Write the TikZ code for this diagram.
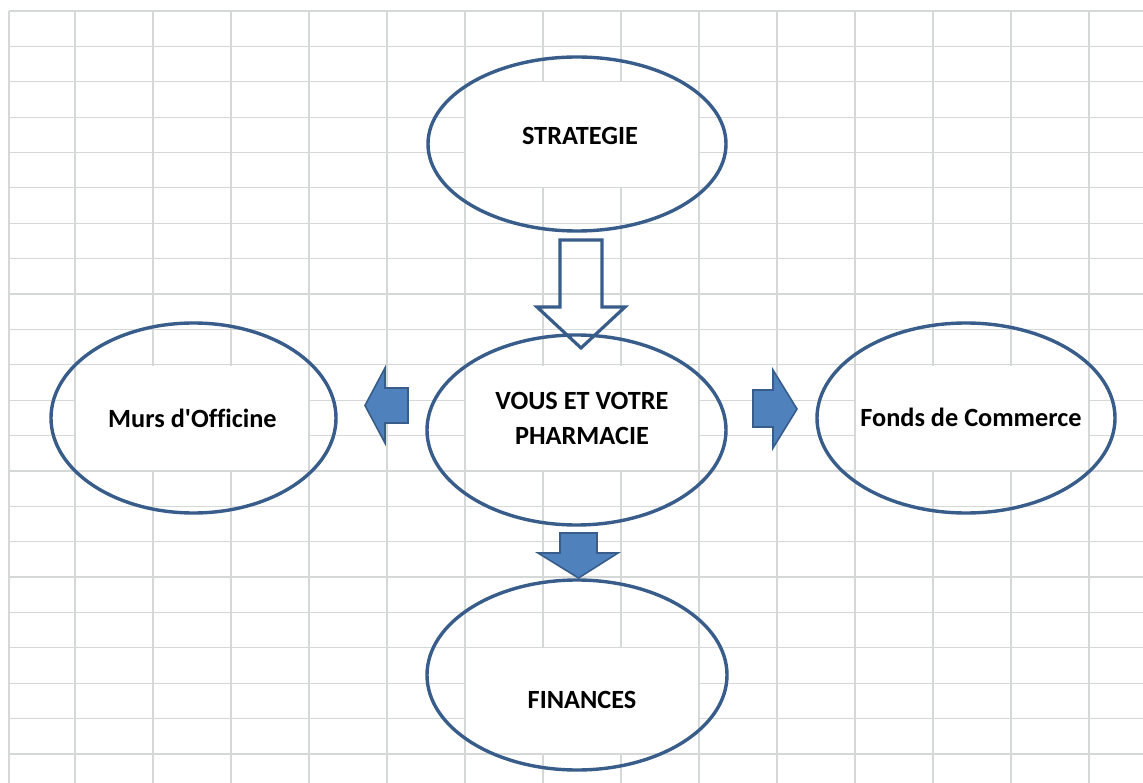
\documentclass[tikz,border=0pt]{standalone}
\usepackage{fontspec}
\setmainfont{Carlito}[Ligatures=NoCommon]
\usetikzlibrary{shapes.geometric}
\definecolor{gridc}{RGB}{212,216,214}
\definecolor{edge}{RGB}{56,93,138}
\definecolor{fillb}{RGB}{79,129,189}
\begin{document}
\begin{tikzpicture}[x=1pt,y=-1pt,
  oval/.style={ellipse, draw=edge, line width=3.4pt, inner sep=0pt},
  lbl/.style={font=\fontsize{26.3}{35}\selectfont\bfseries, inner sep=0pt, text=black},
  gridline/.style={draw=gridc, line width=1.2pt},
  blockarrow/.style={draw=edge, fill=fillb, line width=1.6pt, line join=miter},
  hollowarrow/.style={draw=edge, line width=3.2pt, line join=miter}]
\useasboundingbox (0,0) rectangle (1143,783);
\fill[white] (0,0) rectangle (1143,783);
% spreadsheet grid
\foreach \x in {9,75,153,231,309,387,465,543,621,699,777,855,933,1011,1089}
  \draw[gridline] (\x,11) -- (\x,783);
\foreach \k in {0,...,21}
  \draw[gridline] (9,{11+35.38*\k}) -- (1143,{11+35.38*\k});
% white cells behind texts
\fill[white] (466,82) rectangle (698,187);
\fill[white] (466,366) rectangle (698,470);
\fill[white] (76,366) rectangle (308,470);
\fill[white] (856,366) rectangle (1088,470);
\fill[white] (466,648) rectangle (698,753);
% ellipses
\node[oval, minimum width=298pt, minimum height=174pt] (strat) at (577,144) {};
\node[oval, minimum width=299pt, minimum height=190pt] (centre) at (576.5,430) {};
\node[oval, minimum width=285pt, minimum height=190pt] (murs) at (193.5,418) {};
\node[oval, minimum width=298pt, minimum height=190pt] (fonds) at (966,418) {};
\node[oval, minimum width=300pt, minimum height=190pt] (fin) at (577,675) {};
% arrows
\draw[hollowarrow] (560,240) -- (602,240) -- (602,307) -- (625,307) -- (581,348) -- (537,307) -- (560,307) -- cycle;
\draw[blockarrow] (408,388) -- (385,388) -- (385,368) -- (365,405.5) -- (385,443) -- (385,423) -- (408,423) -- cycle;
\draw[blockarrow] (753,390) -- (773,390) -- (773,370) -- (797,409) -- (773,448) -- (773,427) -- (753,427) -- cycle;
\draw[blockarrow] (560,533) -- (597,533) -- (597,553) -- (618,553) -- (578.5,578) -- (538,553) -- (560,553) -- cycle;
% texts
\node[lbl, anchor=base] (tstrat) at (580,145) {STRATEGIE};
\node[lbl, anchor=center, align=center] (tcentre) at (582,418) {VOUS ET VOTRE\\PHARMACIE};
\node[lbl, anchor=base] (tmurs) at (192.5,427) {Murs d\textquotesingle Officine};
\node[lbl, anchor=base] (tfonds) at (971,426) {Fonds de Commerce};
\node[lbl, anchor=base] (tfin) at (582,708) {FINANCES};
\end{tikzpicture}
\end{document}
